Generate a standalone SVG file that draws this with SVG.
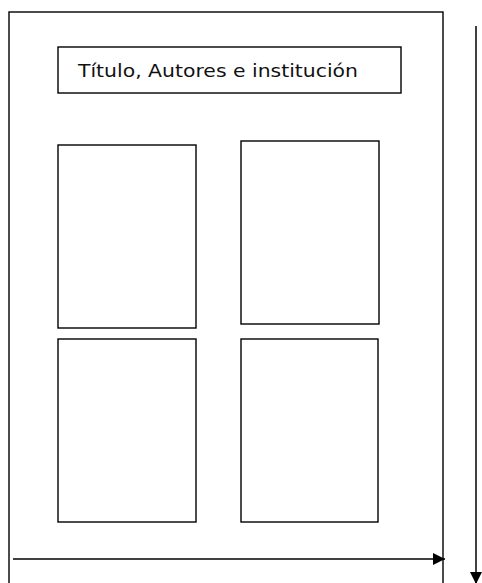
<svg xmlns="http://www.w3.org/2000/svg" width="482" height="583" viewBox="0 0 482 583">
<defs>
<style>
.box{fill:#fff;stroke:#000;stroke-width:1.4}
.ln{fill:none;stroke:#000;stroke-width:1.5}
.t{font-family:"DejaVu Sans",Verdana,sans-serif;font-size:18px;fill:#111}
</style>
<marker id="ah" viewBox="0 0 10 10" refX="10" refY="5" markerWidth="12" markerHeight="12" markerUnits="userSpaceOnUse" orient="auto"><path d="M0,0 L10,5 L0,10 Z" fill="#000"/></marker>
<marker id="ahv" viewBox="0 0 12 12" refX="12" refY="6" markerWidth="12" markerHeight="12" markerUnits="userSpaceOnUse" orient="auto"><path d="M0,0 L12,6 L0,12 Z" fill="#000"/></marker>
</defs>
<rect width="482" height="583" fill="#fff"/>
<g id="page"><rect class="box" x="9" y="12" width="434" height="572"/></g>
<g id="title"><rect class="box" x="58" y="47" width="343" height="46"/>
<text class="t" x="78" y="77" textLength="280" lengthAdjust="spacingAndGlyphs">Título, Autores e institución</text></g>
<g id="box1"><rect class="box" x="58" y="145" width="138" height="183"/></g>
<g id="box2"><rect class="box" x="241" y="141" width="138" height="183"/></g>
<g id="box3"><rect class="box" x="58" y="339" width="138" height="183"/></g>
<g id="box4"><rect class="box" x="241" y="339" width="137" height="183"/></g>
<g id="connectors">
<line class="ln" x1="13" y1="559" x2="445" y2="559" marker-end="url(#ah)"/>
<line class="ln" x1="476" y1="26" x2="476" y2="584" marker-end="url(#ahv)"/>
</g>
</svg>
